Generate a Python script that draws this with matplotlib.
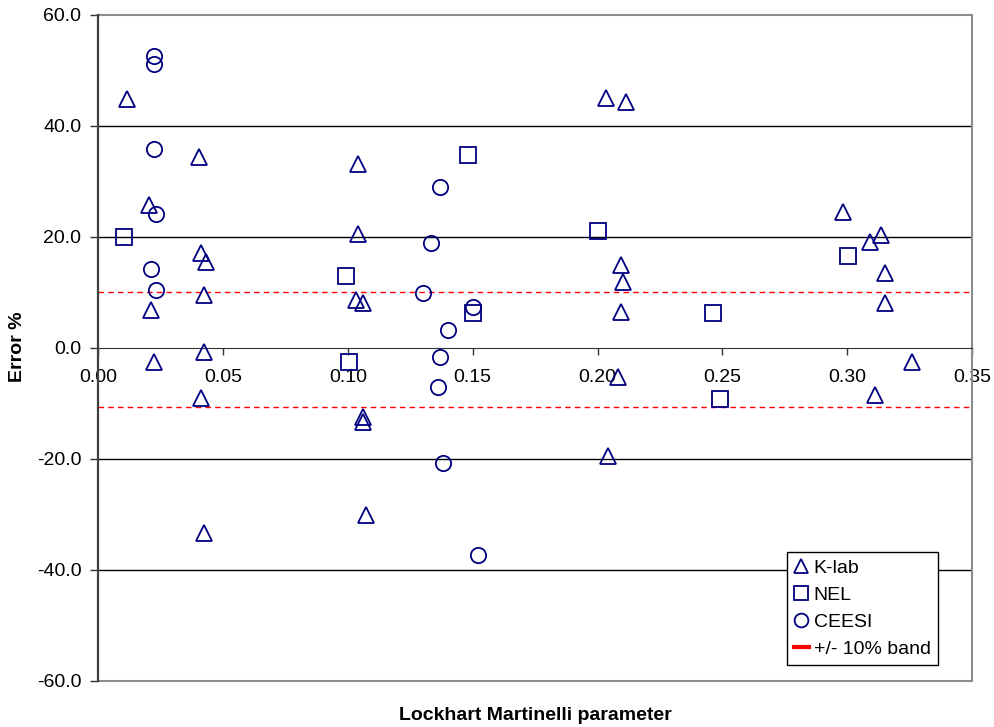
import matplotlib
matplotlib.use("Agg")
import matplotlib.pyplot as plt
from matplotlib.lines import Line2D

plt.rcParams['font.family'] = ['Liberation Sans', 'DejaVu Sans']
plt.rcParams['font.size'] = 14

# K-lab (triangles)
klab_x = [0.0115, 0.0403, 0.0203, 0.0413, 0.0433, 0.0423, 0.0214, 0.0423, 0.0223, 0.0413, 0.0423,
          0.1043, 0.1043, 0.1032, 0.1063, 0.1063, 0.1063, 0.1074,
          0.2034, 0.2113, 0.2093, 0.2102, 0.2093, 0.2082, 0.2042,
          0.2982, 0.3134, 0.3092, 0.3153, 0.3153, 0.3261, 0.3112]
klab_y = [44.8, 34.4, 25.8, 17.1, 15.5, 9.5, 6.8, -0.7, -2.5, -9.0, -33.4,
          33.2, 20.5, 8.7, 8.1, -12.4, -13.3, -30.1,
          45.1, 44.3, 15.0, 11.9, 6.4, -5.3, -19.5,
          24.5, 20.4, 19.1, 13.4, 8.0, -2.6, -8.5]

# NEL (squares)
nel_x = [0.0103, 0.0994, 0.1003, 0.1482, 0.1501, 0.2002, 0.2461, 0.2492, 0.3002]
nel_y = [19.9, 12.9, -2.5, 34.7, 6.2, 21.0, 6.2, -9.3, 16.5]

# CEESI (circles)
ceesi_x = [0.0224, 0.0224, 0.0224, 0.0234, 0.0214, 0.0234,
           0.1371, 0.1333, 0.1302, 0.1501, 0.1402, 0.1371, 0.1362, 0.1382, 0.1522]
ceesi_y = [52.6, 51.2, 35.9, 24.1, 14.3, 10.5,
           29.0, 18.9, 9.9, 7.3, 3.3, -1.6, -7.0, -20.8, -37.4]

band_upper = 10.0
band_lower = -10.7

xticks = [0.00, 0.05, 0.10, 0.15, 0.20, 0.25, 0.30, 0.35]
yticks = [-60, -40, -20, 0, 20, 40, 60]

navy = '#000080'

fig = plt.figure(figsize=(9.94, 7.27), dpi=100)
ax = fig.add_axes([0.0986, 0.0637, 0.8794, 0.9157])

ax.set_xlim(0, 0.35)
ax.set_ylim(-60, 60)

# gridlines inside, grey border at top/bottom
for v in yticks:
    if v in (-60, 60):
        ax.axhline(v, color='#8c8c8c', linewidth=1.5, clip_on=False, zorder=1)
    elif v != 0:
        ax.axhline(v, color='black', linewidth=1, zorder=1)

mk = dict(linestyle='none', mfc='none', mec=navy, ms=11, mew=1.3)
ax.plot(klab_x, klab_y, marker='^', zorder=3, **mk)
ax.plot(nel_x, nel_y, marker='s', zorder=3, **mk)
ax.plot(ceesi_x, ceesi_y, marker='o', zorder=3, **mk)

ax.axhline(band_upper, color='red', linestyle=(0, (4, 3)), linewidth=1, zorder=2)
ax.axhline(band_lower, color='red', linestyle=(0, (4, 3)), linewidth=1, zorder=2)

# x axis crosses at zero
ax.spines['bottom'].set_position(('data', 0))
ax.spines['bottom'].set_color('#333333')
ax.spines['left'].set_color('#404040')
ax.spines['left'].set_linewidth(1.6)
ax.spines['top'].set_visible(False)
ax.spines['right'].set_color('#8c8c8c')
ax.spines['right'].set_linewidth(1.5)

ax.set_xticks(xticks)
ax.set_xticklabels(['%.2f' % v for v in xticks])
ax.set_yticks(yticks)
ax.set_yticklabels(['%.1f' % v for v in yticks])
ax.tick_params(axis='x', direction='out', length=5, width=1, pad=10, color='#333333')
ax.tick_params(axis='y', direction='out', length=6, width=1, pad=6, color='#333333')

fig.text(17 / 994, 1 - 347 / 727, 'Error %', rotation=90, ha='center', va='center',
         fontweight='bold')
fig.text(535 / 994, 1 - 715 / 727, 'Lockhart Martinelli parameter', ha='center', va='center',
         fontweight='bold')

handles = [
    Line2D([], [], marker='^', **mk),
    Line2D([], [], marker='s', **mk),
    Line2D([], [], marker='o', **mk),
    Line2D([], [], color='red', linewidth=3),
]
labels = ['K-lab', 'NEL', 'CEESI', '+/- 10% band']
leg = ax.legend(handles, labels, loc='upper left', bbox_to_anchor=(787 / 994, 1 - 552 / 727),
                bbox_transform=fig.transFigure, borderaxespad=0, fancybox=False,
                edgecolor='black', framealpha=1, handlelength=0.75, handletextpad=0.25,
                borderpad=0.37, labelspacing=0.48, markerscale=0.9)
leg.get_frame().set_linewidth(1)
leg.set_zorder(5)

fig.savefig('out.png', dpi=100)
